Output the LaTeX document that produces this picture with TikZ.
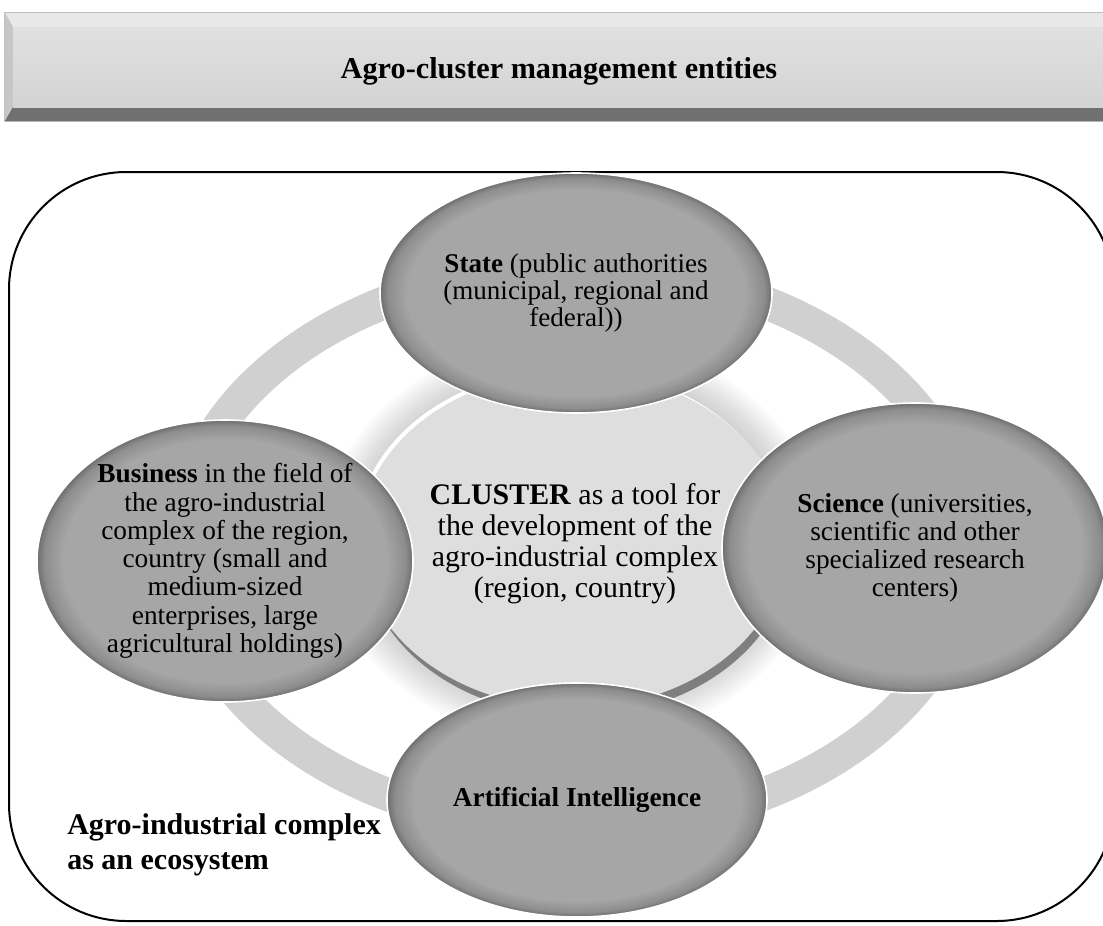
\documentclass[tikz,border=0pt]{standalone}
\usepackage{fontspec}
\setmainfont{Liberation Serif}
\usetikzlibrary{shapes.geometric}

\definecolor{entfill}{HTML}{A6A6A6}
\definecolor{ringgray}{HTML}{D0D0D0}
\definecolor{diskfill}{HTML}{DEDEDE}
\definecolor{diskedge}{HTML}{7F7F7F}

\pgfdeclareradialshading{entshade}{\pgfpointorigin}{color(0bp)=(entfill); color(21.5bp)=(entfill); color(24bp)=(entfill!85!black); color(25bp)=(entfill!66!black); color(50bp)=(entfill!66!black)}

\tikzset{
 entity/.style={ellipse, shade, shading=entshade, draw=white, line width=1.2pt, inner sep=0pt},
 enttext/.style={align=center, inner sep=0pt, font=\fontsize{20.5}{21.2}\selectfont},
 clustertext/.style={align=center, inner sep=0pt, font=\fontsize{22.4}{23.3}\selectfont},
 ecotext/.style={align=left, inner sep=0pt, font=\bfseries\fontsize{22.5}{26.2}\selectfont},
 titletext/.style={inner sep=0pt, font=\bfseries\fontsize{22.7}{26}\selectfont}
}

\begin{document}
\begin{tikzpicture}[x=0.75pt, y=-0.75pt]
\useasboundingbox (0,0) rectangle (1103,925);
\clip (0,0) rectangle (1103,925);

% banner
\fill[black!25] (4,12) rectangle (1110,122);
\fill[black!9] (5,13) -- (1110,13) -- (1110,27) -- (13,27) -- cycle;
\fill[black!22] (5,13) -- (13,27) -- (13,107) -- (5,121) -- cycle;
\fill[black!56] (5,121) -- (13,107) -- (1110,107) -- (1110,121) -- cycle;
\shade[top color=black!12, bottom color=black!17] (13,27) rectangle (1110,107);
\node[titletext] (title) at (559,71) {Agro-cluster management entities};

% ecosystem frame
\draw[black, line width=1.5pt, rounded corners=88pt] (9,172) rectangle (1114,921);

% ring
\draw[ringgray, line width=24.75pt] (575,548) ellipse [x radius=395, y radius=280];

% soft shadow round the cluster
\foreach \k in {1,...,12}
 \fill[black, opacity=.016] (573,540) ellipse [x radius={214+3*\k}, y radius={168+3*\k}];

% cluster disk
\fill[white] (570,537) ellipse [x radius=214, y radius=168];
\fill[diskedge] (577,548) ellipse [x radius=214, y radius=168];
\node[ellipse, fill=diskfill, inner sep=0pt, minimum width=321pt, minimum height=252pt] (cluster) at (573,540) {};
\node[clustertext] (clustertxt) at (575,544) {\textbf{CLUSTER} as a tool for\\the development of the\\agro-industrial complex\\(region, country)};

% entities
\node[entity, minimum width=294pt, minimum height=180pt] (state) at (576,293) {};
\node[enttext, font=\fontsize{20.3}{20.3}\selectfont] (statetxt) at (state) {\textbf{State} (public authorities\\(municipal, regional and\\federal))};

\node[entity, minimum width=282pt, minimum height=211.5pt] (business) at (225,561) {};
\node[enttext] (businesstxt) at (business) {\textbf{Business} in the field of\\the agro-industrial\\complex of the region,\\country (small and\\medium-sized\\enterprises, large\\agricultural holdings)};

\node[entity, minimum width=289.5pt, minimum height=217.5pt] (science) at (915,548) {};
\node[enttext] (sciencetxt) at (science) {\textbf{Science} (universities,\\scientific and other\\specialized research\\centers)};

\node[entity, minimum width=285pt, minimum height=175.5pt] (ai) at (577,800) {};
\node[enttext] (aitxt) at (ai) {\textbf{Artificial Intelligence}};

\node[ecotext, anchor=west] (ecosys) at (67,845) {Agro-industrial complex\\as an ecosystem};
\end{tikzpicture}
\end{document}
